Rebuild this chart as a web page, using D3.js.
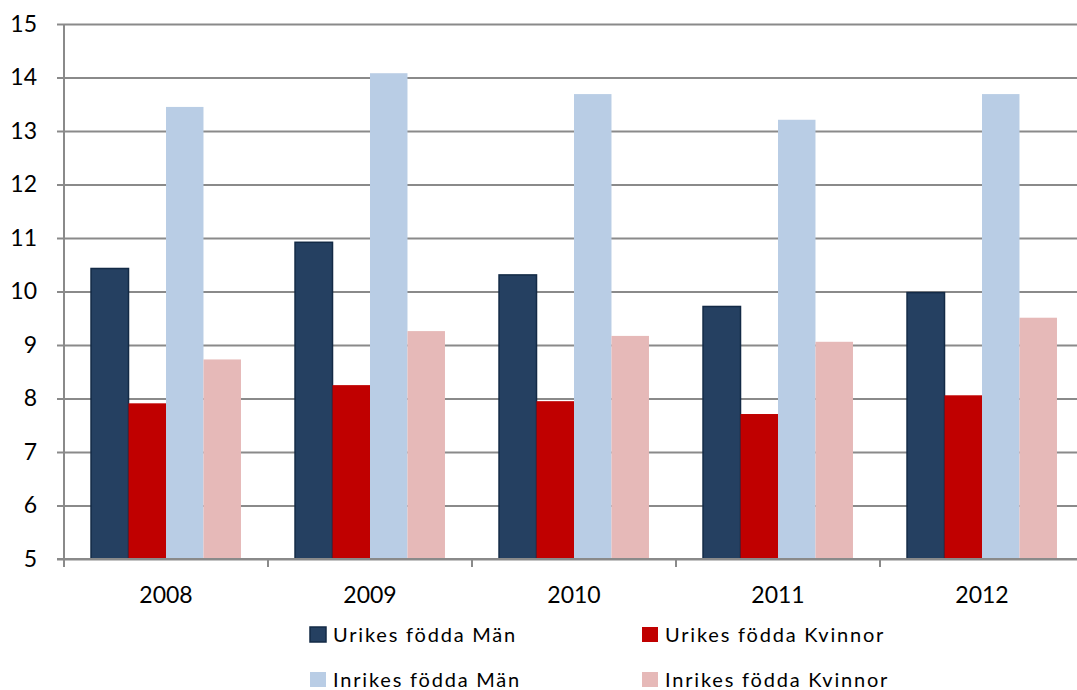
<!DOCTYPE html>
<html>
<head>
<meta charset="utf-8">
<script src="https://cdn.jsdelivr.net/npm/d3@7"></script>
<style>
  body { margin: 0; background: #fff; }
  svg { display: block; font-family: Lato, "Open Sans", sans-serif; }
</style>
</head>
<body>
<svg width="1077" height="690"></svg>
<script>
const years = ["2008", "2009", "2010", "2011", "2012"];
const seriesNames = ["Urikes födda Män", "Urikes födda Kvinnor", "Inrikes födda Män", "Inrikes födda Kvinnor"];
const urikesMan = [10.43, 10.92, 10.31, 9.72, 9.98];
const urikesKvinnor = [7.91, 8.25, 7.95, 7.71, 8.06];
const inrikesMan = [13.45, 14.08, 13.69, 13.21, 13.69];
const inrikesKvinnor = [8.73, 9.26, 9.17, 9.06, 9.51];
const yTicks = [5, 6, 7, 8, 9, 10, 11, 12, 13, 14, 15];

const colors = ["#254061", "#c00000", "#b9cde5", "#e6b9b8"];
const seriesValues = [urikesMan, urikesKvinnor, inrikesMan, inrikesKvinnor];

const svg = d3.select("svg");
const plotLeft = 64, plotRight = 1084, plotTop = 24, plotBottom = 559;

const x = d3.scaleBand().domain(years).range([plotLeft, plotRight]).paddingInner(0.265).paddingOuter(0.1325);
const xs = d3.scaleBand().domain(d3.range(4)).range([0, x.bandwidth()]);
const y = d3.scaleLinear().domain([5, 15]).range([plotBottom, plotTop]);

// gridlines
svg.append("g")
  .attr("transform", `translate(${plotLeft},0)`)
  .call(d3.axisLeft(y).tickValues(yTicks).tickSize(-(plotRight - plotLeft)).tickFormat(""))
  .call(g => g.select(".domain").remove())
  .selectAll("line").attr("stroke", "#8a8a8a").attr("stroke-width", 2);

// bars
const rows = [];
years.forEach((yr, i) => seriesValues.forEach((s, j) => rows.push({ yr, j, v: s[i] })));

svg.append("g").selectAll("rect")
  .data(rows)
  .enter()
  .append("rect")
  .attr("x", d => x(d.yr) + xs(d.j))
  .attr("y", d => y(d.v))
  .attr("width", xs.bandwidth())
  .attr("height", d => y(5) - y(d.v))
  .attr("fill", d => colors[d.j])
  .attr("stroke", d => d.j === 0 ? "#132a46" : "none")
  .attr("stroke-width", 1.5);

// y axis
const yAxis = svg.append("g")
  .attr("transform", `translate(${plotLeft},0)`)
  .call(d3.axisLeft(y).tickValues(yTicks).tickSize(7).tickPadding(20));
yAxis.select(".domain").attr("stroke", "#8a8a8a").attr("stroke-width", 2).attr("d", `M0,${plotTop}V${plotBottom}`);
yAxis.selectAll("line").attr("stroke", "#8a8a8a").attr("stroke-width", 2);
yAxis.selectAll("text").attr("font-size", 23).attr("fill", "#000").attr("font-family", "Lato, sans-serif");

// x axis
const step = x.step();
const xAxis = svg.append("g")
  .attr("transform", `translate(0,${plotBottom})`)
  .call(d3.axisBottom(x).tickSize(0).tickPadding(28));
xAxis.select(".domain").attr("stroke", "#8a8a8a").attr("stroke-width", 2).attr("d", `M${plotLeft - 7},0H${plotRight}`);
xAxis.selectAll("text").attr("font-size", 23).attr("fill", "#000").attr("font-family", "Lato, sans-serif");
xAxis.selectAll(".bound")
  .data(years.concat(["end"]))
  .enter()
  .append("line")
  .attr("class", "bound")
  .attr("x1", (d, i) => plotLeft + i * step)
  .attr("x2", (d, i) => plotLeft + i * step)
  .attr("y1", 0)
  .attr("y2", 8)
  .attr("stroke", "#8a8a8a")
  .attr("stroke-width", 2);

// legend
const legendPos = [[310, 642], [642, 642], [310, 687], [642, 687]];
const legend = svg.append("g").selectAll("g")
  .data(seriesNames)
  .enter()
  .append("g")
  .attr("transform", (d, i) => `translate(${legendPos[i][0]},${legendPos[i][1]})`);
legend.append("rect")
  .attr("x", 0).attr("y", -15).attr("width", 16).attr("height", 15)
  .attr("fill", (d, i) => colors[i])
  .attr("stroke", (d, i) => i === 0 ? "#132a46" : "none")
  .attr("stroke-width", 1.5);
legend.append("text")
  .attr("x", 23).attr("y", 0)
  .attr("font-size", 20)
  .attr("letter-spacing", 1.8)
  .text(d => d);
</script>
</body>
</html>
